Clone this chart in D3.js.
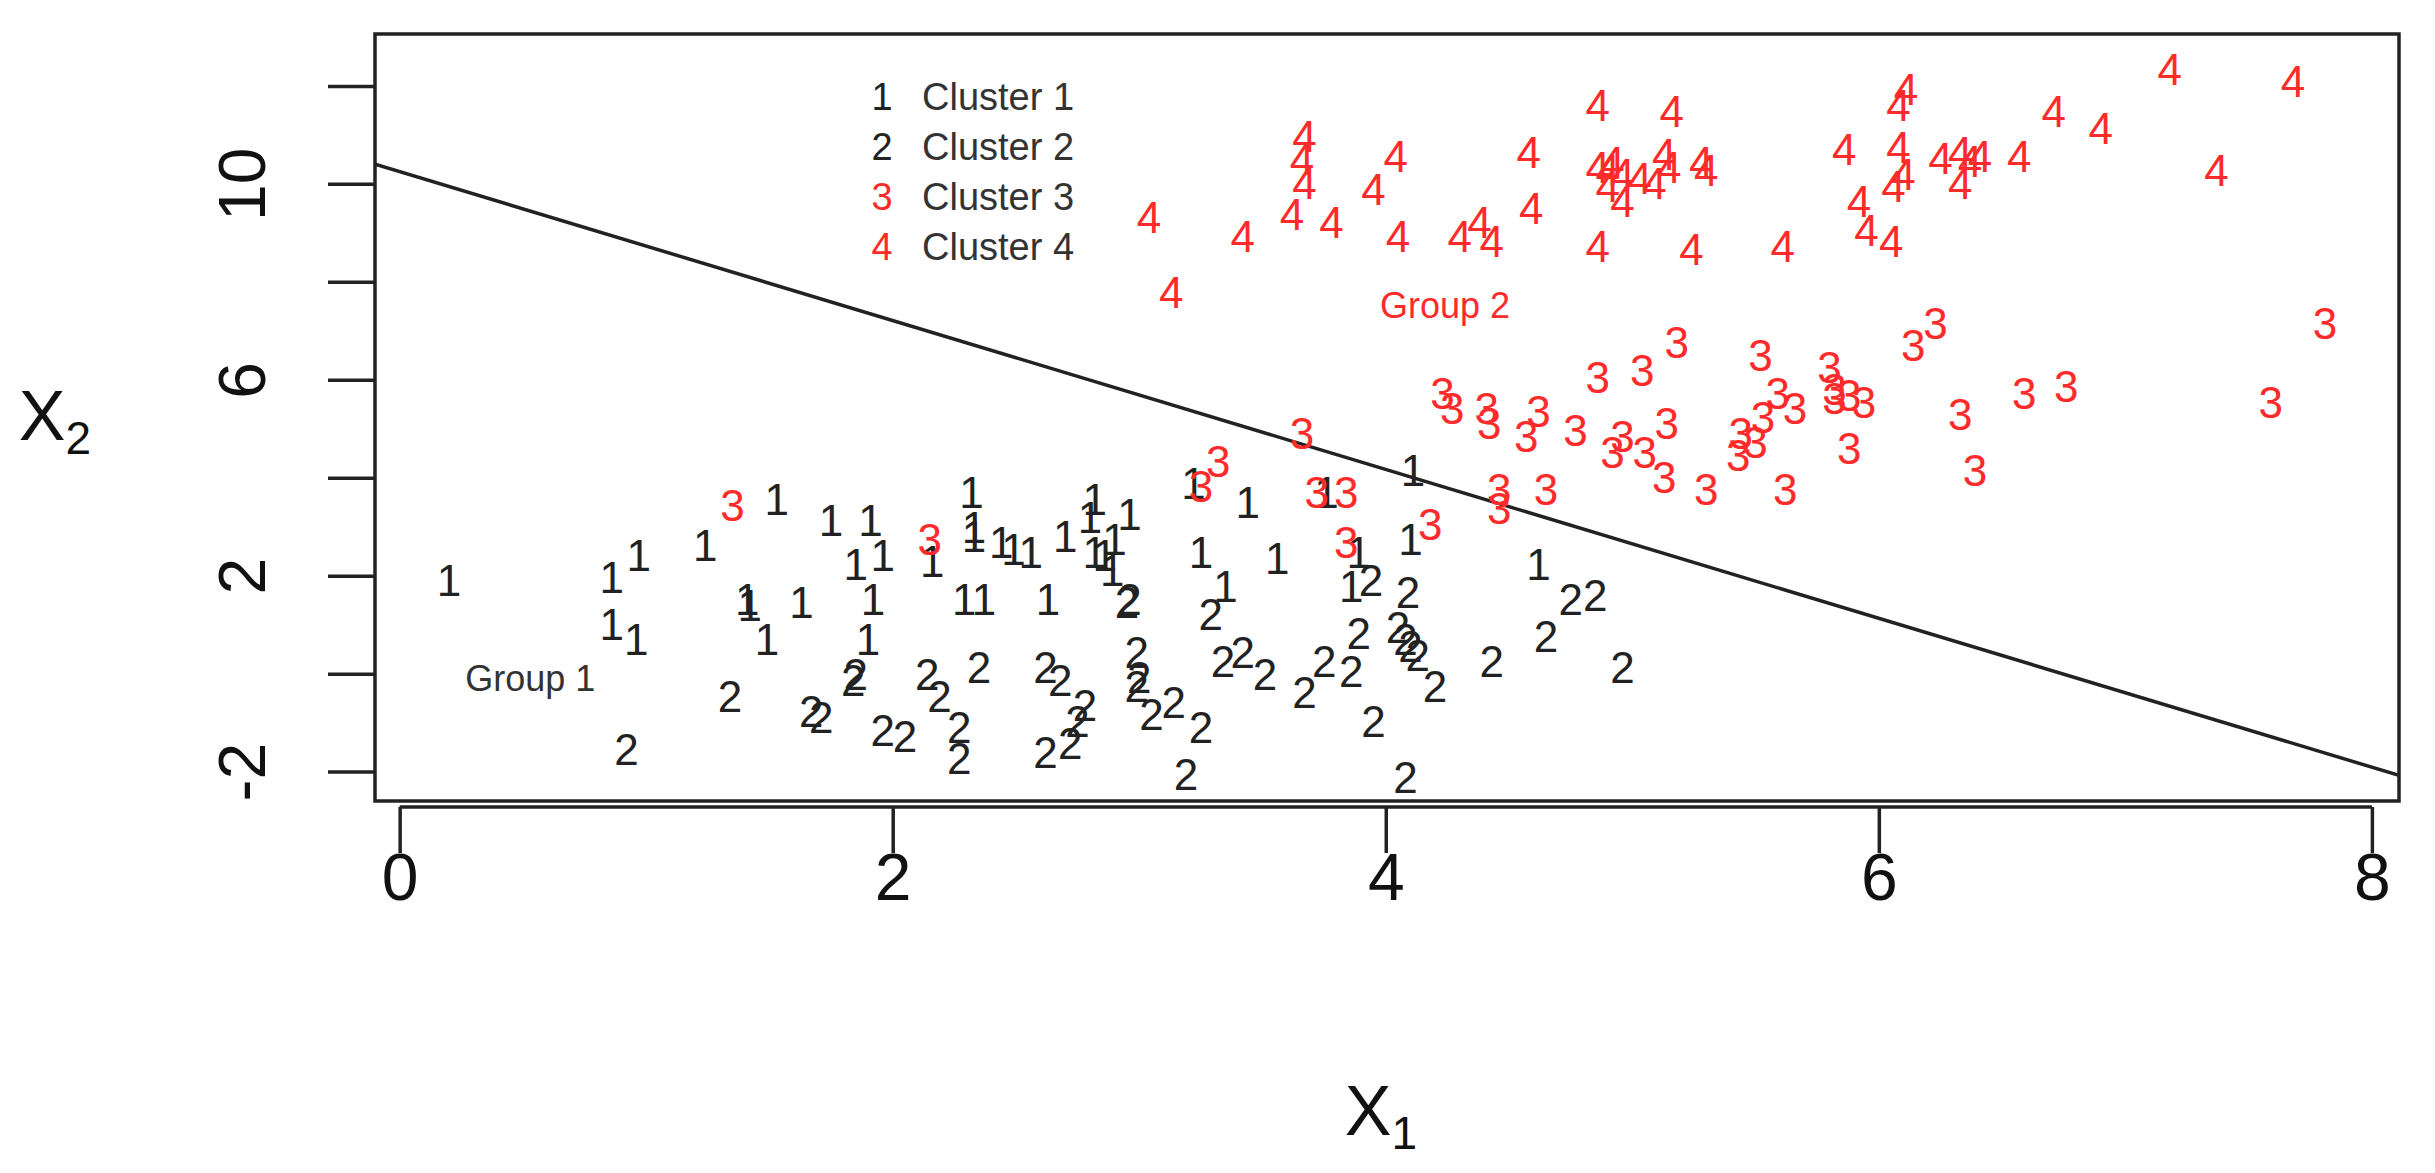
<!DOCTYPE html>
<html><head><meta charset="utf-8">
<script src="https://cdn.jsdelivr.net/npm/d3@7"></script>
<style>body{margin:0;background:#fff}svg{display:block}text{font-family:"Liberation Sans",Arial,sans-serif}</style>
</head><body><svg id="chart" width="2435" height="1173"></svg>
<script>
// cluster points [x1, x2]
const cluster1 = [[0.20,1.90],[0.86,1.97],[0.97,2.41],[0.86,1.01],[0.96,0.69],[1.24,2.61],[1.53,3.56],[1.41,1.52],[1.42,1.39],[1.49,0.69],[1.63,1.46],[1.75,3.12],[1.91,3.12],[1.85,2.22],[1.96,2.41],[1.92,1.52],[1.90,0.69],[2.16,2.29],[2.29,1.52],[2.37,1.52],[2.32,3.69],[2.33,2.99],[2.33,2.80],[2.44,2.67],[2.49,2.54],[2.56,2.48],[2.70,2.80],[2.63,1.52],[2.80,3.18],[2.82,3.56],[2.96,3.24],[2.82,2.48],[2.86,2.41],[2.90,2.73],[2.89,2.10],[3.25,2.48],[3.22,3.88],[3.44,3.50],[3.35,1.78],[3.56,2.35],[3.76,3.69],[3.89,2.48],[3.86,1.78],[4.11,4.14],[4.10,2.73],[4.62,2.22]];
const cluster2 = [[0.92,-1.54],[1.34,-0.46],[1.67,-0.78],[1.71,-0.90],[1.84,-0.14],[1.85,-0.01],[1.96,-1.16],[2.05,-1.29],[2.14,-0.01],[2.19,-0.46],[2.27,-1.10],[2.27,-1.73],[2.35,0.12],[2.62,0.12],[2.68,-0.14],[2.62,-1.61],[2.72,-1.42],[2.75,-0.97],[2.78,-0.65],[2.95,1.46],[2.96,1.52],[2.99,0.44],[2.99,-0.27],[3.00,-0.07],[3.05,-0.84],[3.14,-0.59],[3.25,-1.10],[3.19,-2.05],[3.29,1.20],[3.34,0.24],[3.42,0.44],[3.51,-0.01],[3.67,-0.39],[3.75,0.24],[3.86,0.05],[3.89,0.82],[3.94,1.90],[3.95,-0.97],[4.08,-2.12],[4.05,0.95],[4.09,1.65],[4.08,0.69],[4.10,0.56],[4.13,0.37],[4.20,-0.27],[4.43,0.24],[4.65,0.76],[4.75,1.52],[4.85,1.59],[4.96,0.12]];
const cluster3 = [[7.81,7.14],[6.23,7.14],[6.14,6.69],[5.18,6.76],[5.52,6.50],[5.80,6.25],[4.86,6.05],[5.04,6.18],[4.23,5.73],[4.27,5.42],[4.41,5.42],[4.42,5.10],[4.62,5.35],[4.57,4.84],[4.77,4.97],[4.96,4.84],[4.92,4.52],[5.05,4.52],[5.14,5.10],[5.13,4.01],[5.30,3.76],[5.44,4.90],[5.43,4.46],[5.50,4.71],[5.53,5.22],[5.59,5.73],[5.66,5.42],[5.82,5.61],[5.82,5.80],[5.88,5.67],[5.94,5.54],[5.88,4.59],[5.62,3.76],[6.33,5.29],[6.39,4.14],[6.59,5.73],[6.76,5.86],[7.59,5.54],[3.66,4.90],[3.32,4.33],[3.25,3.82],[3.72,3.69],[3.84,3.69],[3.84,2.67],[4.18,3.05],[4.46,3.76],[4.46,3.37],[4.65,3.76],[1.35,3.44],[2.15,2.73]];
const cluster4 = [[7.18,12.34],[7.68,12.09],[4.86,11.61],[5.16,11.48],[6.08,11.61],[6.11,11.93],[6.71,11.48],[6.90,11.13],[3.67,10.97],[3.66,10.49],[4.04,10.55],[4.58,10.65],[4.86,10.33],[4.90,10.27],[4.92,10.43],[4.96,10.20],[5.13,10.59],[5.15,10.33],[5.28,10.43],[5.30,10.27],[5.86,10.71],[6.08,10.75],[6.10,10.20],[6.25,10.52],[6.33,10.65],[6.37,10.46],[6.41,10.55],[6.57,10.55],[6.33,10.01],[7.37,10.27],[3.67,10.01],[3.95,9.88],[3.62,9.37],[3.78,9.21],[3.04,9.31],[3.42,8.93],[4.05,8.93],[4.30,8.93],[4.38,9.21],[4.43,8.83],[4.59,9.50],[4.86,8.73],[5.24,8.67],[5.61,8.73],[5.92,9.63],[5.95,9.05],[6.05,8.83],[3.13,7.78],[4.96,9.63],[4.90,9.95],[5.03,10.11],[5.09,10.01],[6.06,9.95]];
const clusterNames = ["Cluster 1","Cluster 2","Cluster 3","Cluster 4"];
const clusterColors = ["#222","#222","#ff2a2a","#ff2a2a"];
const xTicks = [0,2,4,6,8];
const yTicks = [-2,0,2,4,6,8,10,12];
const yLabels = [-2,2,6,10];
const lineIntercept = 10.25, lineSlope = -1.52;

const svg = d3.select("#chart");
const L = 375, R = 2399, T = 34, B = 801;
const x = d3.scaleLinear().domain([-0.1, 8.11]).range([L, R]);
const y = d3.scaleLinear().domain([-2.6, 13.06]).range([B, T]);

// separating line, clipped to box
svg.append("clipPath").attr("id","clip").append("rect").attr("x",L).attr("y",T).attr("width",R-L).attr("height",B-T);
svg.append("line").attr("clip-path","url(#clip)")
  .attr("x1",x(-0.1)).attr("y1",y(lineIntercept+lineSlope*-0.1))
  .attr("x2",x(8.11)).attr("y2",y(lineIntercept+lineSlope*8.11))
  .attr("stroke","#222").attr("stroke-width",3.5);

[cluster1,cluster2,cluster3,cluster4].forEach((pts,i) => {
  svg.append("g").selectAll("text").data(pts).join("text")
    .attr("x",d=>x(d[0])).attr("y",d=>y(d[1]))
    .attr("text-anchor","middle").attr("dominant-baseline","central")
    .attr("font-size",44).attr("fill",clusterColors[i]).text(i+1);
});

// legend
const lg = svg.append("g");
clusterNames.forEach((n,i) => {
  lg.append("text").attr("x",882).attr("y",97+i*50).attr("text-anchor","middle").attr("dominant-baseline","central")
    .attr("font-size",38).attr("fill",clusterColors[i]).text(i+1);
  lg.append("text").attr("x",922).attr("y",97+i*50).attr("dominant-baseline","central")
    .attr("font-size",38).attr("fill","#333").text(n);
});

svg.append("text").attr("x",x(4.24)).attr("y",y(7.52)).attr("text-anchor","middle").attr("dominant-baseline","central")
  .attr("font-size",36).attr("fill","#ff2a2a").text("Group 2");
svg.append("text").attr("x",x(0.53)).attr("y",y(-0.1)).attr("text-anchor","middle").attr("dominant-baseline","central")
  .attr("font-size",36).attr("fill","#333").text("Group 1");

// box
svg.append("rect").attr("x",L).attr("y",T).attr("width",R-L).attr("height",B-T)
  .attr("fill","none").attr("stroke","#222").attr("stroke-width",3.5);

// x axis
const xa = svg.append("g").attr("transform",`translate(0,${B+6})`)
  .call(d3.axisBottom(x).tickValues(xTicks).tickSize(46).tickPadding(0).tickFormat(d3.format("d")));
xa.select(".domain").attr("d",`M${x(0)},0H${x(8)}`).attr("stroke","#222").attr("stroke-width",3.5);
xa.selectAll(".tick line").attr("stroke","#222").attr("stroke-width",3.5);
xa.selectAll("text").attr("font-size",66).attr("fill","#111").attr("font-family","Liberation Sans, Arial");

// y axis
const ya = svg.append("g").attr("transform",`translate(${L},0)`)
  .call(d3.axisLeft(y).tickValues(yTicks).tickSize(47).tickFormat(d => yLabels.includes(d) ? d : ""));
ya.select(".domain").remove();
ya.selectAll(".tick line").attr("stroke","#222").attr("stroke-width",3.5);
ya.selectAll("text").attr("font-size",66).attr("fill","#111").attr("font-family","Liberation Sans, Arial")
  .attr("text-anchor","middle").attr("dy",0).attr("x",0)
  .attr("transform","translate(-133,0) rotate(-90)").attr("dominant-baseline","central");

// axis titles
const xt = svg.append("text").attr("x",1381).attr("y",1135).attr("text-anchor","middle").attr("font-size",70).attr("fill","#111");
xt.append("tspan").text("X");
xt.append("tspan").attr("font-size",46).attr("dy",14).text("1");
const yt = svg.append("text").attr("x",55).attr("y",440).attr("text-anchor","middle").attr("font-size",70).attr("fill","#111");
yt.append("tspan").text("X");
yt.append("tspan").attr("font-size",46).attr("dy",14).text("2");
</script></body></html>
